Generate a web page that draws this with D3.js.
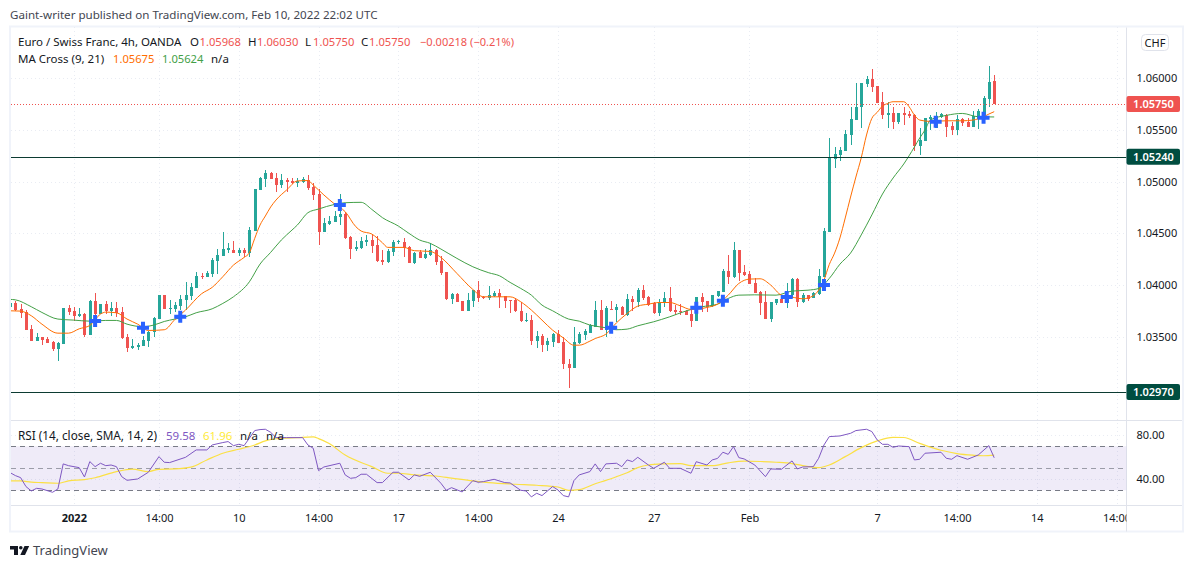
<!DOCTYPE html>
<html>
<head>
<meta charset="utf-8">
<script src="https://cdn.jsdelivr.net/npm/d3@7"></script>
<style>
  html, body { margin: 0; padding: 0; background: #fff; overflow: hidden; }
  text { font-family: "Noto Sans", sans-serif; fill: #131722; }
</style>
</head>
<body>
<div id="chart"></div>
<script>
// candles, in time order, 4h bars
const opens = [
  1.03792,1.03824,1.03766,1.03740,1.03576,1.03463,1.03496,1.03479,1.03447,1.03383,
  1.03434,1.03779,1.03750,1.03702,1.03721,1.03518,1.03847,1.03721,1.03817,1.03750,
  1.03779,1.03740,1.03496,1.03389,1.03405,1.03412,1.03457,1.03544,1.03673,1.03904,
  1.03769,1.03766,1.03798,1.03856,1.03895,1.03972,1.04088,1.04078,1.04107,1.04236,
  1.04281,1.04339,1.04339,1.04310,1.04339,1.04310,1.04523,1.04919,1.05025,1.05086,
  1.05035,1.04967,1.05015,1.05006,1.04986,1.04996,1.05015,1.04945,1.04880,1.04516,
  1.04590,1.04613,1.04658,1.04690,1.04468,1.04349,1.04355,1.04420,1.04436,1.04387,
  1.04243,1.04223,1.04323,1.04413,1.04416,1.04365,1.04210,1.04317,1.04259,1.04291,
  1.04339,1.04236,1.04127,1.03866,1.03914,1.03847,1.03753,1.03850,1.03953,1.03888,
  1.03872,1.03892,1.03924,1.03895,1.03853,1.03859,1.03753,1.03657,1.03663,1.03460,
  1.03508,1.03421,1.03450,1.03531,1.03450,1.03244,1.03199,1.03438,1.03521,1.03541,
  1.03598,1.03759,1.03566,1.03775,1.03759,1.03788,1.03711,1.03865,1.03836,1.03952,
  1.03885,1.03827,1.03733,1.03827,1.03875,1.03759,1.03753,1.03753,1.03721,1.03653,
  1.03885,1.03846,1.03798,1.03894,1.03933,1.04136,1.04078,1.04339,1.04126,1.04107,
  1.04020,1.03933,1.03836,1.03672,1.03833,1.03865,1.03827,1.03904,1.04062,1.03836,
  1.03901,1.03878,1.03911,1.04078,1.04516,1.05220,1.05252,1.05294,1.05449,1.05594,
  1.05723,1.05942,1.05990,1.05922,1.05771,1.05642,1.05661,1.05571,1.05661,1.05652,
  1.05642,1.05343,1.05391,1.05603,1.05520,1.05620,1.05642,1.05536,1.05497,1.05600,
  1.05571,1.05526,1.05600,1.05632,1.05797,1.05968];
const highs = [
  1.03824,1.03850,1.03817,1.03760,1.03615,1.03534,1.03502,1.03496,1.03463,1.03450,
  1.03776,1.03808,1.03792,1.03779,1.03727,1.03856,1.03921,1.03817,1.03850,1.03837,
  1.03837,1.03792,1.03525,1.03479,1.03438,1.03508,1.03560,1.03692,1.03904,1.03904,
  1.03856,1.03840,1.03904,1.04027,1.04017,1.04123,1.04114,1.04136,1.04265,1.04349,
  1.04516,1.04404,1.04426,1.04355,1.04355,1.04565,1.04928,1.05048,1.05112,1.05096,
  1.05080,1.05073,1.05032,1.05032,1.05032,1.05048,1.05064,1.04990,1.04925,1.04645,
  1.04668,1.04719,1.04880,1.04710,1.04474,1.04429,1.04468,1.04484,1.04484,1.04474,
  1.04339,1.04349,1.04436,1.04436,1.04452,1.04378,1.04323,1.04339,1.04346,1.04404,
  1.04349,1.04281,1.04130,1.03921,1.03921,1.03850,1.03927,1.03953,1.04040,1.03895,
  1.03991,1.03940,1.03959,1.03895,1.03856,1.03872,1.03840,1.03727,1.03711,1.03557,
  1.03528,1.03492,1.03534,1.03566,1.03502,1.03283,1.03592,1.03550,1.03573,1.03624,
  1.03849,1.03856,1.03798,1.03846,1.03817,1.03798,1.03911,1.03894,1.03975,1.04001,
  1.03894,1.03840,1.03865,1.03936,1.03981,1.03807,1.03817,1.03759,1.03791,1.03888,
  1.03920,1.03849,1.03904,1.03946,1.04155,1.04290,1.04416,1.04339,1.04194,1.04133,
  1.04065,1.03946,1.03943,1.03840,1.03865,1.03888,1.04026,1.04065,1.04065,1.03920,
  1.03904,1.03930,1.04155,1.04548,1.05417,1.05336,1.05330,1.05497,1.05723,1.05954,
  1.05954,1.06019,1.06086,1.05922,1.05868,1.05771,1.05716,1.05658,1.05723,1.05681,
  1.05649,1.05513,1.05616,1.05639,1.05671,1.05658,1.05649,1.05578,1.05642,1.05613,
  1.05610,1.05681,1.05697,1.05826,1.06115,1.06030];
const lows = [
  1.03792,1.03753,1.03685,1.03566,1.03460,1.03460,1.03425,1.03441,1.03367,1.03270,
  1.03434,1.03714,1.03657,1.03692,1.03502,1.03518,1.03695,1.03721,1.03721,1.03702,
  1.03695,1.03483,1.03357,1.03383,1.03373,1.03412,1.03405,1.03502,1.03673,1.03769,
  1.03721,1.03743,1.03760,1.03760,1.03856,1.03972,1.04062,1.04075,1.04082,1.04107,
  1.04281,1.04313,1.04313,1.04281,1.04275,1.04268,1.04523,1.04919,1.04951,1.05025,
  1.04903,1.04935,1.04896,1.04977,1.04951,1.04990,1.04919,1.04822,1.04387,1.04516,
  1.04581,1.04613,1.04581,1.04445,1.04252,1.04333,1.04349,1.04378,1.04313,1.04223,
  1.04194,1.04217,1.04281,1.04397,1.04275,1.04217,1.04204,1.04265,1.04249,1.04281,
  1.04194,1.04098,1.03856,1.03817,1.03837,1.03750,1.03753,1.03792,1.03840,1.03863,
  1.03860,1.03882,1.03779,1.03776,1.03727,1.03737,1.03644,1.03644,1.03421,1.03396,
  1.03354,1.03367,1.03405,1.03444,1.03190,1.03006,1.03199,1.03431,1.03470,1.03541,
  1.03598,1.03566,1.03502,1.03759,1.03647,1.03708,1.03701,1.03753,1.03791,1.03856,
  1.03804,1.03721,1.03701,1.03791,1.03746,1.03714,1.03711,1.03711,1.03598,1.03653,
  1.03740,1.03743,1.03791,1.03888,1.03933,1.04010,1.04068,1.04040,1.04088,1.04010,
  1.03920,1.03711,1.03672,1.03647,1.03807,1.03827,1.03779,1.03875,1.03788,1.03833,
  1.03843,1.03875,1.03904,1.04078,1.04516,1.05133,1.05198,1.05294,1.05352,1.05594,
  1.05520,1.05916,1.05868,1.05761,1.05603,1.05517,1.05507,1.05555,1.05542,1.05610,
  1.05294,1.05252,1.05391,1.05497,1.05520,1.05616,1.05430,1.05449,1.05449,1.05536,
  1.05526,1.05526,1.05507,1.05587,1.05723,1.05750];
const closes = [
  1.03824,1.03760,1.03734,1.03566,1.03463,1.03496,1.03470,1.03444,1.03383,1.03441,
  1.03776,1.03740,1.03702,1.03721,1.03518,1.03847,1.03721,1.03817,1.03750,1.03779,
  1.03727,1.03489,1.03393,1.03409,1.03421,1.03470,1.03547,1.03682,1.03904,1.03769,
  1.03779,1.03808,1.03866,1.03901,1.03982,1.04088,1.04082,1.04117,1.04243,1.04291,
  1.04349,1.04355,1.04313,1.04342,1.04310,1.04532,1.04928,1.05035,1.05080,1.05025,
  1.04967,1.05015,1.04996,1.04986,1.05009,1.05022,1.04941,1.04871,1.04516,1.04597,
  1.04619,1.04668,1.04684,1.04452,1.04349,1.04368,1.04429,1.04436,1.04381,1.04233,
  1.04223,1.04333,1.04416,1.04423,1.04359,1.04217,1.04313,1.04265,1.04304,1.04339,
  1.04227,1.04114,1.03866,1.03911,1.03840,1.03753,1.03856,1.03953,1.03876,1.03876,
  1.03901,1.03921,1.03882,1.03850,1.03850,1.03747,1.03653,1.03663,1.03460,1.03508,
  1.03421,1.03457,1.03531,1.03444,1.03238,1.03199,1.03447,1.03528,1.03560,1.03618,
  1.03759,1.03566,1.03782,1.03759,1.03788,1.03711,1.03865,1.03836,1.03952,1.03875,
  1.03807,1.03727,1.03836,1.03875,1.03750,1.03740,1.03746,1.03711,1.03653,1.03882,
  1.03836,1.03791,1.03901,1.03943,1.04139,1.04078,1.04339,1.04117,1.04097,1.04010,
  1.03920,1.03827,1.03672,1.03836,1.03862,1.03827,1.03904,1.04062,1.03836,1.03904,
  1.03865,1.03923,1.04088,1.04522,1.05233,1.05265,1.05304,1.05459,1.05603,1.05723,
  1.05954,1.05990,1.05913,1.05761,1.05642,1.05661,1.05578,1.05658,1.05642,1.05632,
  1.05343,1.05401,1.05610,1.05623,1.05632,1.05649,1.05526,1.05497,1.05603,1.05565,
  1.05526,1.05632,1.05681,1.05806,1.05961,1.05750];

// MA 9, read at the bars given in fastBars
const fastBars = [0,2,4,6,9,11,13,15,17,18,20,22,24,26,29,31,33,36,38,40,42,44,45,46,47,48,49,50,52,54,
  56,57,59,61,63,65,66,68,70,71,74,76,79,81,84,87,89,92,94,96,98,100,102,104,106,107,109,
  110,112,114,116,118,120,122,124,126,128,131,133,135,137,139,141,143,145,147,149,151,152,153,154,155,156,157,158,
  159,160,161,162,163,164,165,166,168,169,170,171,173,176,179,181,183,184,185];
const fastValues = [1.03753,1.03750,1.03705,1.03624,1.03537,1.03537,1.03579,1.03611,1.03721,1.03740,1.03734,1.03673,1.03624,1.03563,1.03570,1.03669,1.03760,1.03917,1.03979,1.04082,1.04194,1.04268,1.04313,1.04452,1.04581,1.04668,1.04755,1.04822,1.04919,1.05006,
  1.05010,1.04967,1.04871,1.04784,1.04710,1.04565,1.04523,1.04494,1.04410,1.04365,1.04365,1.04333,1.04326,1.04268,1.04114,1.03959,1.03888,1.03888,1.03888,1.03840,1.03760,1.03663,1.03566,1.03492,1.03421,1.03421,1.03460,
  1.03485,1.03527,1.03637,1.03727,1.03798,1.03817,1.03833,1.03833,1.03801,1.03766,1.03785,1.03817,1.03904,1.04017,1.04059,1.04062,1.04001,1.03904,1.03885,1.03869,1.03898,1.03952,1.04049,1.04200,1.04310,1.04456,1.04649,1.04851,
  1.05044,1.05228,1.05450,1.05610,1.05668,1.05729,1.05755,1.05771,1.05771,1.05723,1.05642,1.05594,1.05581,1.05587,1.05587,1.05594,1.05626,1.05652,1.05675];

// MA 21
const slowBars = [0,1,4,6,9,12,15,18,20,22,25,27,29,31,33,35,38,40,42,45,47,49,51,53,54,
  56,58,61,63,66,68,70,73,75,77,79,81,84,87,90,92,94,96,98,100,102,105,107,109,
  110,112,114,116,118,121,124,127,130,133,135,137,140,144,147,150,152,154,156,158,160,162,164,166,168,170,171,172,173,176,179,182,185];
const slowValues = [1.03863,1.03859,1.03792,1.03737,1.03673,1.03663,1.03653,1.03660,1.03660,1.03624,1.03599,1.03615,1.03650,1.03673,1.03695,1.03734,1.03772,1.03824,1.03888,1.04033,1.04204,1.04317,1.04436,1.04532,1.04580,
  1.04700,1.04735,1.04780,1.04796,1.04800,1.04732,1.04652,1.04571,1.04500,1.04436,1.04404,1.04349,1.04259,1.04178,1.04120,1.04091,1.04027,1.03969,1.03904,1.03808,1.03753,1.03673,1.03653,1.03615,
  1.03605,1.03589,1.03570,1.03576,1.03608,1.03647,1.03695,1.03750,1.03791,1.03817,1.03872,1.03904,1.03907,1.03904,1.03943,1.03952,1.03968,1.04065,1.04203,1.04310,1.04485,1.04678,1.04880,1.05035,1.05170,1.05334,1.05421,1.05498,1.05595,1.05639,1.05658,1.05626,1.05624];

// MA cross markers
const crossBars = [16,25,32,62,113,129,134,146,153,174,183];
const crossValues = [1.03654,1.03590,1.03696,1.04774,1.03590,1.03783,1.03850,1.03886,1.04002,1.05578,1.05617];

// RSI 14
const rsiBars = [0,1,2,3,4,5,6,8,9,10,11,13,14,15,16,17,18,19,20,21,22,24,26,28,29,30,33,35,37,38,40,41,42,43,44,46,47,48,49,50,52,55,56,57,58,59,62,63,64,65,66,67,69,70,72,
  73,75,76,77,79,81,82,83,85,87,88,89,91,93,94,96,97,98,99,100,102,103,104,105,106,107,109,110,111,112,114,115,116,117,118,120,121,123,124,126,128,129,131,132,133,134,135,136,137,138,140,142,143,145,
  147,148,149,151,152,153,154,156,158,159,161,162,163,164,165,166,167,169,170,171,172,175,176,177,178,180,182,184,185];
const rsiValues = [46.1,43.4,41.5,33.4,29.4,31.8,31.2,28.2,31.2,54,52.4,50.6,42.1,56.1,51.5,54.6,52.4,53,51.5,42.4,39.1,40.3,46.4,60.6,55.5,55.2,60,66.7,66.7,71.2,73.4,74.3,70.6,71.8,70.6,84.3,85.2,85.5,82.7,77.9,77.9,77.9,71.2,68.2,47.9,51.2,54.6,44,40.9,41.5,44.6,44.6,37,37,46.4,
  46.4,39.4,44,42.7,46.4,36.4,30,32.4,28.5,38.8,37.3,37.9,40,37,36.7,30,29.4,24,27.3,25.2,33.4,30.3,25.2,24,38.8,44,47,54,47,54,54.6,51.5,57.6,56.1,60,53,50,55.5,50,50,45.5,56,53,57.6,59,64.6,62.7,69.7,59.7,58.5,53,42.4,49.4,49.1,
  56.7,49.4,51.2,51.5,59.1,71.2,78.8,79.4,81.8,84.3,85.5,83.4,75.8,71.8,71.8,69.1,70.3,69.7,57.6,58.2,63.7,64.6,59.1,58.2,61.5,58.2,62.1,70.6,59.58];

// RSI based MA
const rsiMaBars = [0,2,4,6,9,11,14,16,20,23,26,28,31,34,37,40,43,46,48,51,54,57,58,60,63,68,71,73,
  76,80,83,87,90,95,99,103,105,107,110,112,114,116,118,120,123,126,128,132,135,138,141,144,
  147,149,151,152,154,157,160,163,166,168,171,175,178,181,183,185];
const rsiMaValues = [38.5,38.5,37.4,37,36.4,38.5,39.7,41.4,47,49.3,47,49.1,49.4,51,57.6,63.7,67.3,71.2,74.9,77.3,77.9,78.5,77,72.5,62,51.5,45.5,45.5,
  44,43,41.1,38.5,37,35.5,34.6,33,30,30.6,36,39,42.4,46,50.6,53,54,54.3,52.4,52.4,55,56.5,56.2,55.5,
  54.3,52.4,51,50.6,53,60.6,68.8,74.9,78.2,78,72.7,66.4,63.4,61.9,61.4,61.96];

const priceTicks = [1.06, 1.055, 1.05, 1.045, 1.04, 1.035];
const levelPrices = [1.0524, 1.0297];
const lastPrice = 1.0575;
const rsiTicks = [80, 40];
const rsiBandLevels = [70, 50, 30];
const timeTickBars = [12, 28, 43, 58, 73, 88, 103, 121, 139, 163, 178, 193, 208];
const timeTickLabels = ["2022", "14:00", "10", "14:00", "17", "14:00", "24", "27", "Feb", "7", "14:00", "14", "14:00"];

const width = 1194;
const height = 568;
const teal = "#26a69a";
const red = "#ef5350";
const lineGrey = "#e0e3eb";
const gridGrey = "#e9ecf3";

const left = 11, paneRight = 1126.5, frameRight = 1182;
const mainTop = 27, mainBottom = 420, rsiBottom = 505, frameBottom = 531;

const svg = d3.select("#chart").append("svg")
    .attr("width", width)
    .attr("height", height);

// scales
const x = d3.scaleLinear().domain([0, 185]).range([10, 994.2]);
const y = d3.scaleLinear().domain([1.035, 1.06]).range([337, 78]);
const rsiY = d3.scaleLinear().domain([30, 70]).range([490.3, 446.3]);

const defs = svg.append("defs");
defs.append("clipPath").attr("id", "main-clip").append("rect")
    .attr("x", left).attr("y", mainTop).attr("width", paneRight - left).attr("height", mainBottom - mainTop);
defs.append("clipPath").attr("id", "rsi-clip").append("rect")
    .attr("x", left).attr("y", mainBottom).attr("width", paneRight - left).attr("height", rsiBottom - mainBottom);
defs.append("clipPath").attr("id", "time-clip").append("rect")
    .attr("x", left).attr("y", rsiBottom).attr("width", paneRight - left).attr("height", frameBottom - rsiBottom);

// published line
svg.append("text").attr("x", 10).attr("y", 19).attr("font-size", 11.6).style("fill", "#434651")
    .text("Gaint-writer published on TradingView.com, Feb 10, 2022 22:02 UTC");

// frame and separators
svg.append("rect").attr("x", 10).attr("y", 26.5).attr("width", frameRight - 9).attr("height", frameBottom - 26)
    .attr("fill", "none").attr("stroke", "#f0f3fa").attr("stroke-width", 2);
const seps = [[left, mainBottom, frameRight, mainBottom], [left, rsiBottom, frameRight, rsiBottom], [paneRight, mainTop, paneRight, frameBottom]];
svg.selectAll("line.sep").data(seps).join("line").attr("class", "sep")
    .attr("x1", d => d[0]).attr("y1", d => Math.floor(d[1]) + 0.5).attr("x2", d => d[2]).attr("y2", d => Math.floor(d[3]) + 0.5)
    .attr("stroke", lineGrey);

// grid
const grid = svg.append("g").attr("stroke", gridGrey).attr("stroke-dasharray", "1,3");
grid.selectAll("line.gx").data(timeTickBars).join("line").attr("class", "gx")
    .attr("x1", d => Math.round(x(d)) + 0.5).attr("x2", d => Math.round(x(d)) + 0.5)
    .attr("y1", mainTop).attr("y2", rsiBottom);
grid.selectAll("line.gy").data(priceTicks).join("line").attr("class", "gy")
    .attr("x1", left).attr("x2", paneRight)
    .attr("y1", d => Math.round(y(d)) + 0.5).attr("y2", d => Math.round(y(d)) + 0.5);
grid.selectAll("line.gr").data(rsiTicks).join("line").attr("class", "gr")
    .attr("x1", left).attr("x2", paneRight)
    .attr("y1", d => Math.round(rsiY(d)) + 0.5).attr("y2", d => Math.round(rsiY(d)) + 0.5);

// main pane
const main = svg.append("g").attr("clip-path", "url(#main-clip)");

const bars = main.selectAll("g.bar").data(d3.range(opens.length)).join("g").attr("class", "bar")
    .attr("shape-rendering", "crispEdges")
    .attr("fill", i => closes[i] >= opens[i] ? teal : red);
bars.append("rect")
    .attr("x", i => Math.round(x(i)))
    .attr("width", 1)
    .attr("y", i => Math.round(y(highs[i])))
    .attr("height", i => Math.max(1, Math.round(y(lows[i])) - Math.round(y(highs[i]))));
bars.append("rect")
    .attr("x", i => Math.round(x(i)) - 1)
    .attr("width", 3)
    .attr("y", i => Math.round(y(Math.max(opens[i], closes[i]))))
    .attr("height", i => Math.max(1, Math.round(y(Math.min(opens[i], closes[i]))) - Math.round(y(Math.max(opens[i], closes[i])))));

const maLine = d3.line().x(d => x(d[0])).y(d => y(d[1])).curve(d3.curveMonotoneX);
main.append("path").datum(d3.zip(slowBars, slowValues)).attr("d", maLine)
    .attr("fill", "none").attr("stroke", "#43a047").attr("stroke-width", 1);
main.append("path").datum(d3.zip(fastBars, fastValues)).attr("d", maLine)
    .attr("fill", "none").attr("stroke", "#ff6d00").attr("stroke-width", 1);

// last price and horizontal levels
main.append("line").attr("x1", left).attr("x2", paneRight)
    .attr("y1", Math.round(y(lastPrice)) + 0.5).attr("y2", Math.round(y(lastPrice)) + 0.5)
    .attr("stroke", red).attr("stroke-dasharray", "1,2");
main.selectAll("line.level").data(levelPrices).join("line").attr("class", "level")
    .attr("x1", left).attr("x2", paneRight)
    .attr("y1", d => Math.round(y(d)) + 0.5).attr("y2", d => Math.round(y(d)) + 0.5)
    .attr("stroke", "#0c3b32");

const cross = d3.symbol().type(d3.symbolCross).size(80);
main.selectAll("path.cross").data(d3.zip(crossBars, crossValues)).join("path").attr("class", "cross")
    .attr("d", cross)
    .attr("transform", d => `translate(${x(d[0])},${y(d[1])})`)
    .attr("fill", "#2962ff");

// price axis
const priceAxis = d3.axisRight(y).tickValues(priceTicks).tickSize(0).tickPadding(10).tickFormat(d3.format(".5f"));
const priceG = svg.append("g").attr("transform", `translate(${paneRight},0)`).call(priceAxis);
priceG.select(".domain").remove();
priceG.selectAll("text").attr("font-size", 11).attr("font-family", null);

function priceTag(price, color) {
    const py = y(price);
    svg.append("rect").attr("x", paneRight).attr("y", py - 8).attr("width", 53.5).attr("height", 16).attr("rx", 2)
        .attr("fill", color);
    svg.append("text").attr("x", paneRight + 27).attr("y", py + 4).attr("text-anchor", "middle")
        .attr("font-size", 11).attr("font-weight", 600).style("fill", "#fff")
        .text(d3.format(".5f")(price));
}
priceTag(lastPrice, red);
levelPrices.forEach(p => priceTag(p, "#004d40"));

// currency button
svg.append("rect").attr("x", 1141.5).attr("y", 34.5).attr("width", 27).attr("height", 16).attr("rx", 4)
    .attr("fill", "#fff").attr("stroke", lineGrey);
svg.append("text").attr("x", 1155).attr("y", 46.5).attr("text-anchor", "middle").attr("font-size", 11).text("CHF");

// RSI pane
const rsiPane = svg.append("g").attr("clip-path", "url(#rsi-clip)");
rsiPane.append("rect").attr("x", left).attr("width", paneRight - left)
    .attr("y", rsiY(70)).attr("height", rsiY(30) - rsiY(70))
    .attr("fill", "#7e57c2").attr("fill-opacity", 0.12);
rsiPane.selectAll("line.band").data(rsiBandLevels).join("line").attr("class", "band")
    .attr("x1", left).attr("x2", paneRight)
    .attr("y1", d => Math.round(rsiY(d)) + 0.5).attr("y2", d => Math.round(rsiY(d)) + 0.5)
    .attr("stroke", "#787b86").attr("stroke-dasharray", "5,4")
    .attr("stroke-opacity", d => d === 50 ? 0.7 : 1);

const rsiLine = d3.line().x(d => x(d[0])).y(d => rsiY(d[1]));
rsiPane.append("path").datum(d3.zip(rsiMaBars, rsiMaValues))
    .attr("d", rsiLine.curve(d3.curveMonotoneX))
    .attr("fill", "none").attr("stroke", "#fbe044").attr("stroke-width", 1.2);
rsiPane.append("path").datum(d3.zip(rsiBars, rsiValues))
    .attr("d", rsiLine.curve(d3.curveLinear))
    .attr("fill", "none").attr("stroke", "#7e57c2").attr("stroke-width", 1);

const rsiAxis = d3.axisRight(rsiY).tickValues(rsiTicks).tickSize(0).tickPadding(10).tickFormat(d3.format(".2f"));
const rsiG = svg.append("g").attr("transform", `translate(${paneRight},0)`).call(rsiAxis);
rsiG.select(".domain").remove();
rsiG.selectAll("text").attr("font-size", 11).attr("font-family", null);

// time axis, last label gets cut by the price axis
const timeAxis = d3.axisBottom(x).tickValues(timeTickBars).tickSize(0).tickPadding(9)
    .tickFormat((d, i) => timeTickLabels[i]);
const timeG = svg.append("g").attr("clip-path", "url(#time-clip)")
    .append("g").attr("transform", `translate(0,${rsiBottom})`).call(timeAxis);
timeG.select(".domain").remove();
timeG.selectAll("text").attr("font-size", 11).attr("font-family", null)
    .attr("font-weight", (d, i) => timeTickLabels[i] === "2022" ? 700 : 400);

// legends
const legendRows = [
    {y: 45.5, parts: [
        [18, "Euro / Swiss Franc, 4h, OANDA", "#131722", 11.5],
        [190, "O", "#131722", 11.5], [199.5, "1.05968", red, 11.2],
        [248, "H", "#131722", 11.5], [257, "1.06030", red, 11.2],
        [305, "L", "#131722", 11.5], [313, "1.05750", red, 11.2],
        [361, "C", "#131722", 11.5], [369, "1.05750", red, 11.2],
        [420, "\u22120.00218 (\u22120.21%)", red, 11.05]]},
    {y: 62.5, parts: [
        [18, "MA Cross (9, 21)", "#131722", 11.5], [113, "1.05675", "#ff6d00", 11.2],
        [162, "1.05624", "#43a047", 11.2], [211, "n/a", "#131722", 11.5]]},
    {y: 440, parts: [
        [18, "RSI (14, close, SMA, 14, 2)", "#131722", 11.75], [166, "59.58", "#7e57c2", 11.5],
        [203, "61.96", "#ffeb3b", 11.5], [240, "n/a", "#131722", 11.5], [266, "n/a", "#131722", 11.5]]}
];
legendRows.forEach(row => {
    svg.append("g").selectAll("text").data(row.parts).join("text")
        .attr("x", d => d[0]).attr("y", row.y).attr("font-size", d => d[3])
        .style("fill", d => d[2])
        .text(d => d[1]);
});

// logo
const logo = svg.append("g").attr("fill", "#131722");
logo.append("path").attr("d", "M10 546H18V555H14V549.5H10Z");
logo.append("circle").attr("cx", 20.8).attr("cy", 547.7).attr("r", 1.8);
logo.append("path").attr("d", "M24.5 546H29.2L25 555H20.3Z");
svg.append("text").attr("x", 33).attr("y", 555).attr("font-size", 13).style("fill", "#434651").text("TradingView");
</script>
</body>
</html>
